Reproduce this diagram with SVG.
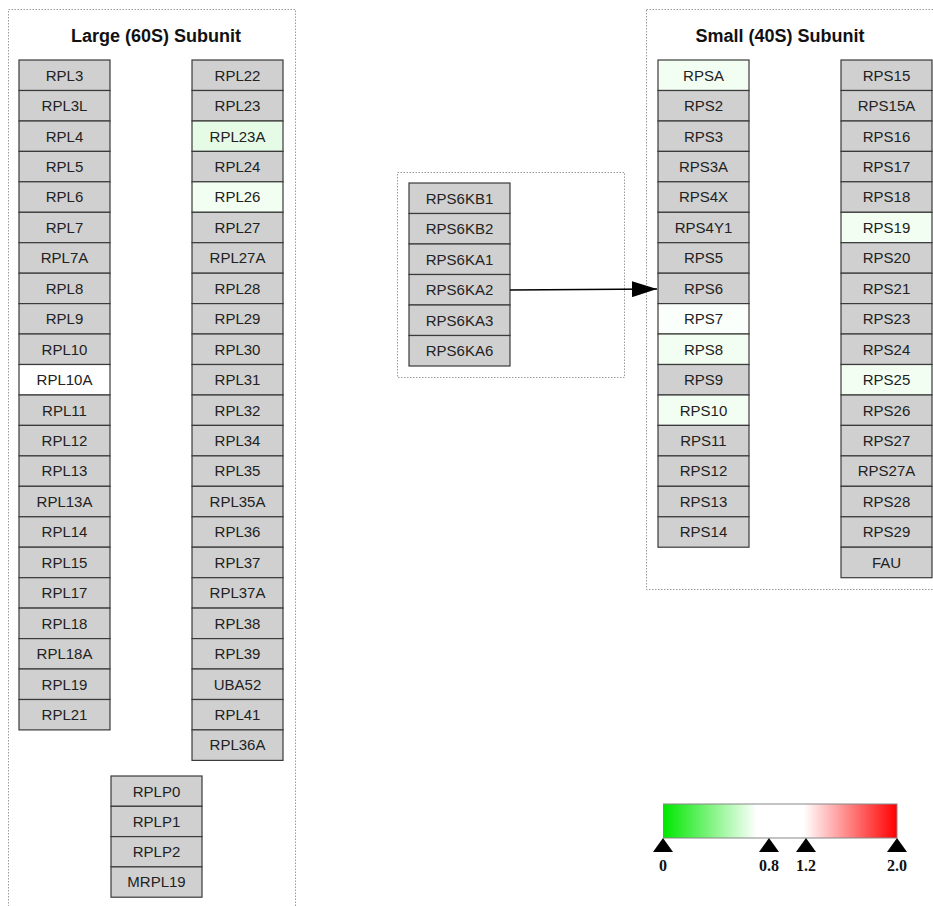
<svg xmlns="http://www.w3.org/2000/svg" width="933" height="906" viewBox="0 0 933 906">
<style>
.grp{fill:none;stroke:#9a9a9a;stroke-width:1;stroke-dasharray:1.5,1.5}
.n{fill:#d0d0d0;stroke:#3a3a3a;stroke-width:1.2}
.g1{fill:#e6fbe6}
.g2{fill:#f3fef3}
.g3{fill:#fbfffb}
.w{fill:#ffffff}
.t{font-family:"Liberation Sans",Arial,sans-serif;font-size:15px;fill:#222;text-anchor:middle}
.title{font-family:"Liberation Sans",Arial,sans-serif;font-size:18px;font-weight:bold;fill:#111;text-anchor:middle}
.lg{font-family:"Liberation Serif","Times New Roman",serif;font-size:16px;font-weight:bold;fill:#111;text-anchor:middle}
.edge{stroke:#000;stroke-width:1.5;fill:none}
</style>
<defs>
<marker id="arr" markerUnits="userSpaceOnUse" markerWidth="26" markerHeight="16" refX="25" refY="8" orient="auto">
<path d="M0,0 L25,8 L0,16 Z" fill="#000"/>
</marker>
<linearGradient id="grad" x1="0" y1="0" x2="1" y2="0">
<stop offset="0" stop-color="#00e800"/>
<stop offset="0.4" stop-color="#ffffff"/>
<stop offset="0.6" stop-color="#ffffff"/>
<stop offset="1" stop-color="#ff0000"/>
</linearGradient>
</defs>
<rect width="933" height="906" fill="#ffffff"/>

<g id="large-subunit">
<rect class="grp" x="8.5" y="9.5" width="287" height="910"/>
<text class="title" x="156" y="42">Large (60S) Subunit</text>
</g>
<g id="kinase-group">
<rect class="grp" x="397.5" y="172.5" width="227" height="205"/>
</g>
<g id="small-subunit">
<rect class="grp" x="646.5" y="9.5" width="300" height="580"/>
<text class="title" x="780" y="42">Small (40S) Subunit</text>
</g>

<g id="RPL3"><rect class="n" x="19" y="60" width="91" height="30.5"/><text class="t" x="64.5" y="80.5">RPL3</text></g>
<g id="RPL3L"><rect class="n" x="19" y="90.5" width="91" height="30.5"/><text class="t" x="64.5" y="111">RPL3L</text></g>
<g id="RPL4"><rect class="n" x="19" y="121" width="91" height="30.4"/><text class="t" x="64.5" y="141.5">RPL4</text></g>
<g id="RPL5"><rect class="n" x="19" y="151.4" width="91" height="30.4"/><text class="t" x="64.5" y="171.9">RPL5</text></g>
<g id="RPL6"><rect class="n" x="19" y="181.8" width="91" height="30.5"/><text class="t" x="64.5" y="202.3">RPL6</text></g>
<g id="RPL7"><rect class="n" x="19" y="212.3" width="91" height="30.4"/><text class="t" x="64.5" y="232.8">RPL7</text></g>
<g id="RPL7A"><rect class="n" x="19" y="242.7" width="91" height="30.5"/><text class="t" x="64.5" y="263.2">RPL7A</text></g>
<g id="RPL8"><rect class="n" x="19" y="273.2" width="91" height="30.4"/><text class="t" x="64.5" y="293.7">RPL8</text></g>
<g id="RPL9"><rect class="n" x="19" y="303.6" width="91" height="30.4"/><text class="t" x="64.5" y="324.1">RPL9</text></g>
<g id="RPL10"><rect class="n" x="19" y="334" width="91" height="30.5"/><text class="t" x="64.5" y="354.5">RPL10</text></g>
<g id="RPL10A"><rect class="n w" x="19" y="364.5" width="91" height="30.5"/><text class="t" x="64.5" y="385">RPL10A</text></g>
<g id="RPL11"><rect class="n" x="19" y="395" width="91" height="30.4"/><text class="t" x="64.5" y="415.5">RPL11</text></g>
<g id="RPL12"><rect class="n" x="19" y="425.4" width="91" height="30.5"/><text class="t" x="64.5" y="445.9">RPL12</text></g>
<g id="RPL13"><rect class="n" x="19" y="455.9" width="91" height="30.4"/><text class="t" x="64.5" y="476.4">RPL13</text></g>
<g id="RPL13A"><rect class="n" x="19" y="486.3" width="91" height="30.5"/><text class="t" x="64.5" y="506.8">RPL13A</text></g>
<g id="RPL14"><rect class="n" x="19" y="516.8" width="91" height="30.4"/><text class="t" x="64.5" y="537.3">RPL14</text></g>
<g id="RPL15"><rect class="n" x="19" y="547.2" width="91" height="30.5"/><text class="t" x="64.5" y="567.7">RPL15</text></g>
<g id="RPL17"><rect class="n" x="19" y="577.7" width="91" height="30.4"/><text class="t" x="64.5" y="598.2">RPL17</text></g>
<g id="RPL18"><rect class="n" x="19" y="608.1" width="91" height="30.5"/><text class="t" x="64.5" y="628.6">RPL18</text></g>
<g id="RPL18A"><rect class="n" x="19" y="638.6" width="91" height="30.4"/><text class="t" x="64.5" y="659.1">RPL18A</text></g>
<g id="RPL19"><rect class="n" x="19" y="669" width="91" height="30.5"/><text class="t" x="64.5" y="689.5">RPL19</text></g>
<g id="RPL21"><rect class="n" x="19" y="699.5" width="91" height="30.4"/><text class="t" x="64.5" y="720">RPL21</text></g>

<g id="RPL22"><rect class="n" x="192" y="60" width="91" height="30.5"/><text class="t" x="237.5" y="80.5">RPL22</text></g>
<g id="RPL23"><rect class="n" x="192" y="90.5" width="91" height="30.5"/><text class="t" x="237.5" y="111">RPL23</text></g>
<g id="RPL23A"><rect class="n g1" x="192" y="121" width="91" height="30.4"/><text class="t" x="237.5" y="141.5">RPL23A</text></g>
<g id="RPL24"><rect class="n" x="192" y="151.4" width="91" height="30.4"/><text class="t" x="237.5" y="171.9">RPL24</text></g>
<g id="RPL26"><rect class="n g2" x="192" y="181.8" width="91" height="30.5"/><text class="t" x="237.5" y="202.3">RPL26</text></g>
<g id="RPL27"><rect class="n" x="192" y="212.3" width="91" height="30.4"/><text class="t" x="237.5" y="232.8">RPL27</text></g>
<g id="RPL27A"><rect class="n" x="192" y="242.7" width="91" height="30.5"/><text class="t" x="237.5" y="263.2">RPL27A</text></g>
<g id="RPL28"><rect class="n" x="192" y="273.2" width="91" height="30.4"/><text class="t" x="237.5" y="293.7">RPL28</text></g>
<g id="RPL29"><rect class="n" x="192" y="303.6" width="91" height="30.4"/><text class="t" x="237.5" y="324.1">RPL29</text></g>
<g id="RPL30"><rect class="n" x="192" y="334" width="91" height="30.5"/><text class="t" x="237.5" y="354.5">RPL30</text></g>
<g id="RPL31"><rect class="n" x="192" y="364.5" width="91" height="30.5"/><text class="t" x="237.5" y="385">RPL31</text></g>
<g id="RPL32"><rect class="n" x="192" y="395" width="91" height="30.4"/><text class="t" x="237.5" y="415.5">RPL32</text></g>
<g id="RPL34"><rect class="n" x="192" y="425.4" width="91" height="30.5"/><text class="t" x="237.5" y="445.9">RPL34</text></g>
<g id="RPL35"><rect class="n" x="192" y="455.9" width="91" height="30.4"/><text class="t" x="237.5" y="476.4">RPL35</text></g>
<g id="RPL35A"><rect class="n" x="192" y="486.3" width="91" height="30.5"/><text class="t" x="237.5" y="506.8">RPL35A</text></g>
<g id="RPL36"><rect class="n" x="192" y="516.8" width="91" height="30.4"/><text class="t" x="237.5" y="537.3">RPL36</text></g>
<g id="RPL37"><rect class="n" x="192" y="547.2" width="91" height="30.5"/><text class="t" x="237.5" y="567.7">RPL37</text></g>
<g id="RPL37A"><rect class="n" x="192" y="577.7" width="91" height="30.4"/><text class="t" x="237.5" y="598.2">RPL37A</text></g>
<g id="RPL38"><rect class="n" x="192" y="608.1" width="91" height="30.5"/><text class="t" x="237.5" y="628.6">RPL38</text></g>
<g id="RPL39"><rect class="n" x="192" y="638.6" width="91" height="30.4"/><text class="t" x="237.5" y="659.1">RPL39</text></g>
<g id="UBA52"><rect class="n" x="192" y="669" width="91" height="30.5"/><text class="t" x="237.5" y="689.5">UBA52</text></g>
<g id="RPL41"><rect class="n" x="192" y="699.5" width="91" height="30.4"/><text class="t" x="237.5" y="720">RPL41</text></g>
<g id="RPL36A"><rect class="n" x="192" y="729.9" width="91" height="30.5"/><text class="t" x="237.5" y="750.4">RPL36A</text></g>

<g id="RPLP0"><rect class="n" x="111" y="776" width="91" height="30.3"/><text class="t" x="156.5" y="796.5">RPLP0</text></g>
<g id="RPLP1"><rect class="n" x="111" y="806.3" width="91" height="30.3"/><text class="t" x="156.5" y="826.8">RPLP1</text></g>
<g id="RPLP2"><rect class="n" x="111" y="836.6" width="91" height="30.3"/><text class="t" x="156.5" y="857.1">RPLP2</text></g>
<g id="MRPL19"><rect class="n" x="111" y="866.9" width="91" height="30.3"/><text class="t" x="156.5" y="887.4">MRPL19</text></g>

<g id="RPS6KB1"><rect class="n" x="409" y="183" width="101" height="30.5"/><text class="t" x="459.5" y="203.5">RPS6KB1</text></g>
<g id="RPS6KB2"><rect class="n" x="409" y="213.5" width="101" height="30.5"/><text class="t" x="459.5" y="234">RPS6KB2</text></g>
<g id="RPS6KA1"><rect class="n" x="409" y="244" width="101" height="30.5"/><text class="t" x="459.5" y="264.5">RPS6KA1</text></g>
<g id="RPS6KA2"><rect class="n" x="409" y="274.5" width="101" height="30.5"/><text class="t" x="459.5" y="295">RPS6KA2</text></g>
<g id="RPS6KA3"><rect class="n" x="409" y="305" width="101" height="30.5"/><text class="t" x="459.5" y="325.5">RPS6KA3</text></g>
<g id="RPS6KA6"><rect class="n" x="409" y="335.5" width="101" height="30.5"/><text class="t" x="459.5" y="356">RPS6KA6</text></g>

<g id="RPSA"><rect class="n g2" x="658" y="60" width="91" height="30.5"/><text class="t" x="703.5" y="80.5">RPSA</text></g>
<g id="RPS2"><rect class="n" x="658" y="90.5" width="91" height="30.5"/><text class="t" x="703.5" y="111">RPS2</text></g>
<g id="RPS3"><rect class="n" x="658" y="121" width="91" height="30.4"/><text class="t" x="703.5" y="141.5">RPS3</text></g>
<g id="RPS3A"><rect class="n" x="658" y="151.4" width="91" height="30.4"/><text class="t" x="703.5" y="171.9">RPS3A</text></g>
<g id="RPS4X"><rect class="n" x="658" y="181.8" width="91" height="30.5"/><text class="t" x="703.5" y="202.3">RPS4X</text></g>
<g id="RPS4Y1"><rect class="n" x="658" y="212.3" width="91" height="30.4"/><text class="t" x="703.5" y="232.8">RPS4Y1</text></g>
<g id="RPS5"><rect class="n" x="658" y="242.7" width="91" height="30.5"/><text class="t" x="703.5" y="263.2">RPS5</text></g>
<g id="RPS6"><rect class="n" x="658" y="273.2" width="91" height="30.4"/><text class="t" x="703.5" y="293.7">RPS6</text></g>
<g id="RPS7"><rect class="n g3" x="658" y="303.6" width="91" height="30.4"/><text class="t" x="703.5" y="324.1">RPS7</text></g>
<g id="RPS8"><rect class="n g2" x="658" y="334" width="91" height="30.5"/><text class="t" x="703.5" y="354.5">RPS8</text></g>
<g id="RPS9"><rect class="n" x="658" y="364.5" width="91" height="30.5"/><text class="t" x="703.5" y="385">RPS9</text></g>
<g id="RPS10"><rect class="n g2" x="658" y="395" width="91" height="30.4"/><text class="t" x="703.5" y="415.5">RPS10</text></g>
<g id="RPS11"><rect class="n" x="658" y="425.4" width="91" height="30.5"/><text class="t" x="703.5" y="445.9">RPS11</text></g>
<g id="RPS12"><rect class="n" x="658" y="455.9" width="91" height="30.4"/><text class="t" x="703.5" y="476.4">RPS12</text></g>
<g id="RPS13"><rect class="n" x="658" y="486.3" width="91" height="30.5"/><text class="t" x="703.5" y="506.8">RPS13</text></g>
<g id="RPS14"><rect class="n" x="658" y="516.8" width="91" height="30.4"/><text class="t" x="703.5" y="537.3">RPS14</text></g>

<g id="RPS15"><rect class="n" x="841" y="60" width="91" height="30.5"/><text class="t" x="886.5" y="80.5">RPS15</text></g>
<g id="RPS15A"><rect class="n" x="841" y="90.5" width="91" height="30.5"/><text class="t" x="886.5" y="111">RPS15A</text></g>
<g id="RPS16"><rect class="n" x="841" y="121" width="91" height="30.4"/><text class="t" x="886.5" y="141.5">RPS16</text></g>
<g id="RPS17"><rect class="n" x="841" y="151.4" width="91" height="30.4"/><text class="t" x="886.5" y="171.9">RPS17</text></g>
<g id="RPS18"><rect class="n" x="841" y="181.8" width="91" height="30.5"/><text class="t" x="886.5" y="202.3">RPS18</text></g>
<g id="RPS19"><rect class="n g2" x="841" y="212.3" width="91" height="30.4"/><text class="t" x="886.5" y="232.8">RPS19</text></g>
<g id="RPS20"><rect class="n" x="841" y="242.7" width="91" height="30.5"/><text class="t" x="886.5" y="263.2">RPS20</text></g>
<g id="RPS21"><rect class="n" x="841" y="273.2" width="91" height="30.4"/><text class="t" x="886.5" y="293.7">RPS21</text></g>
<g id="RPS23"><rect class="n" x="841" y="303.6" width="91" height="30.4"/><text class="t" x="886.5" y="324.1">RPS23</text></g>
<g id="RPS24"><rect class="n" x="841" y="334" width="91" height="30.5"/><text class="t" x="886.5" y="354.5">RPS24</text></g>
<g id="RPS25"><rect class="n g2" x="841" y="364.5" width="91" height="30.5"/><text class="t" x="886.5" y="385">RPS25</text></g>
<g id="RPS26"><rect class="n" x="841" y="395" width="91" height="30.4"/><text class="t" x="886.5" y="415.5">RPS26</text></g>
<g id="RPS27"><rect class="n" x="841" y="425.4" width="91" height="30.5"/><text class="t" x="886.5" y="445.9">RPS27</text></g>
<g id="RPS27A"><rect class="n" x="841" y="455.9" width="91" height="30.4"/><text class="t" x="886.5" y="476.4">RPS27A</text></g>
<g id="RPS28"><rect class="n" x="841" y="486.3" width="91" height="30.5"/><text class="t" x="886.5" y="506.8">RPS28</text></g>
<g id="RPS29"><rect class="n" x="841" y="516.8" width="91" height="30.4"/><text class="t" x="886.5" y="537.3">RPS29</text></g>
<g id="FAU"><rect class="n" x="841" y="547.2" width="91" height="30.5"/><text class="t" x="886.5" y="567.7">FAU</text></g>

<g id="connectors">
<line class="edge" x1="510" y1="290" x2="657" y2="289" marker-end="url(#arr)"/>
</g>

<g id="legend">
<rect x="663.5" y="804" width="233.5" height="34" fill="url(#grad)" stroke="#888" stroke-width="1"/>
<path d="M663,838 L653,852 L673,852 Z" fill="#000"/>
<path d="M769,838 L759,852 L779,852 Z" fill="#000"/>
<path d="M806,838 L796,852 L816,852 Z" fill="#000"/>
<path d="M897,838 L887,852 L907,852 Z" fill="#000"/>
<text class="lg" x="663" y="871">0</text>
<text class="lg" x="769" y="871">0.8</text>
<text class="lg" x="806" y="871">1.2</text>
<text class="lg" x="897" y="871">2.0</text>
</g>
</svg>
